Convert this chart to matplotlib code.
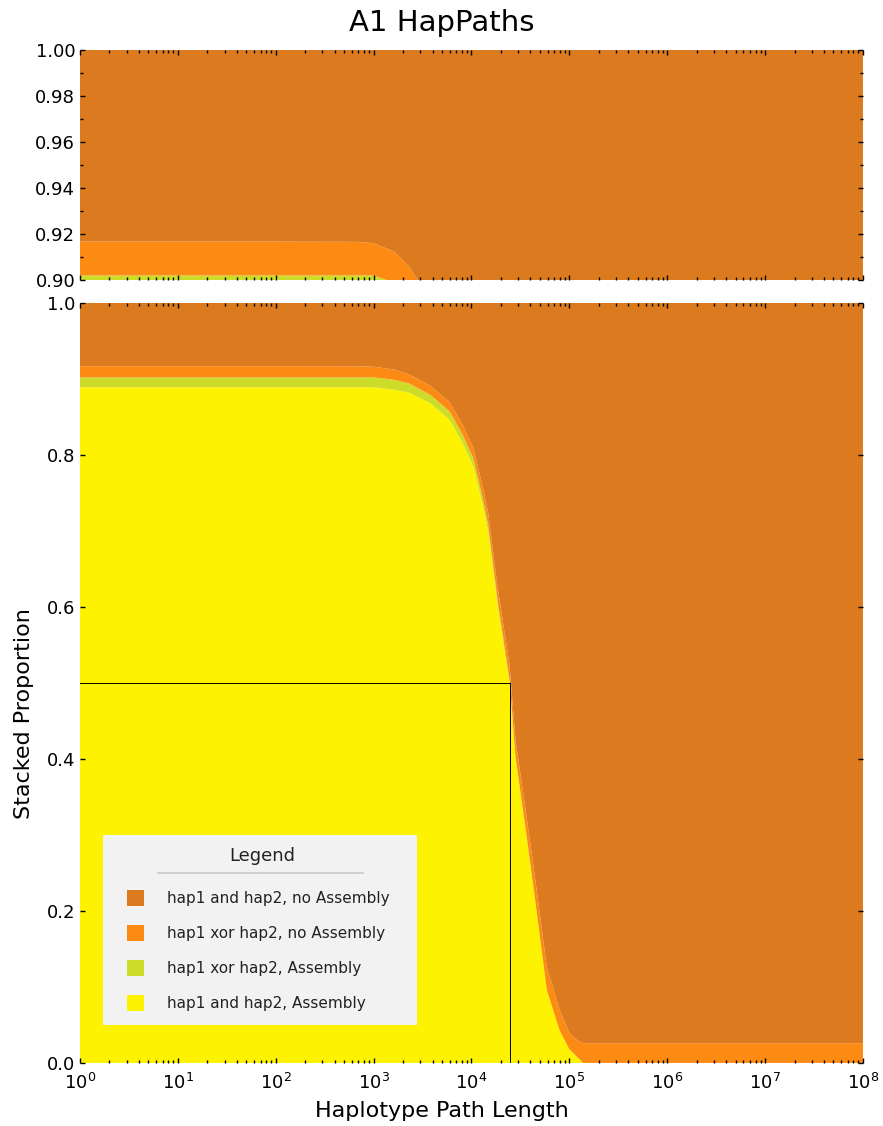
import numpy as np
import matplotlib
matplotlib.use("Agg")
import matplotlib.pyplot as plt
from matplotlib.patches import Rectangle
from matplotlib.lines import Line2D
from matplotlib.ticker import MultipleLocator, FormatStrFormatter, LogLocator

# haplotype path lengths (bp) at which the proportions were sampled
path_lengths = [1, 10, 100, 700, 1000, 1600, 2300, 3800, 6000, 8100, 10500, 13200,
                14800, 18600, 24500, 28200, 36300, 44700, 58900, 79400,
                100000, 120000, 138000, 158000, 1e6, 1e7, 1e8]

# proportion of each category, bottom to top of the stack
both_asm = [0.889, 0.889, 0.889, 0.889, 0.889, 0.886, 0.882, 0.868, 0.846, 0.816,
            0.784, 0.731, 0.700, 0.600, 0.500, 0.400, 0.300, 0.214, 0.096, 0.043,
            0.018, 0.008, 0.0, 0.0, 0.0, 0.0, 0.0]
xor_asm = [0.013, 0.013, 0.013, 0.013, 0.013, 0.013, 0.012, 0.011, 0.011, 0.011,
           0.011, 0.009, 0.008, 0.006, 0.004, 0.003, 0.002, 0.001, 0.0, 0.0,
           0.0, 0.0, 0.0, 0.0, 0.0, 0.0, 0.0]
xor_no_asm = [0.0147, 0.0147, 0.0147, 0.0146, 0.014, 0.0135, 0.012, 0.012, 0.012,
              0.013, 0.014, 0.015, 0.016, 0.018, 0.020, 0.022, 0.025, 0.028, 0.030,
              0.027, 0.022, 0.022, 0.026, 0.026, 0.026, 0.026, 0.026]
both_no_asm = [0.0833, 0.0833, 0.0833, 0.0834, 0.084, 0.0875, 0.094, 0.109, 0.131,
               0.160, 0.191, 0.245, 0.276, 0.376, 0.476, 0.575, 0.673, 0.757, 0.874,
               0.930, 0.960, 0.970, 0.974, 0.974, 0.974, 0.974, 0.974]

labels = ["hap1 and hap2, Assembly", "hap1 xor hap2, Assembly",
          "hap1 xor hap2, no Assembly", "hap1 and hap2, no Assembly"]
colors = ["#FDF200", "#CDDC29", "#FD8A13", "#DC7A1F"]

# length at which half the pairs are still assembled
n50_length = 24500
n50_level = 0.5

fig = plt.figure(figsize=(8.83, 11.26), dpi=100)
ax_top = fig.add_axes([0.0906, 0.7513, 0.8867, 0.2043])
ax = fig.add_axes([0.0906, 0.0560, 0.8867, 0.6750])

series = [both_asm, xor_asm, xor_no_asm, both_no_asm]
for a in (ax_top, ax):
    a.stackplot(path_lengths, *series, colors=colors, labels=labels, lw=0)
    a.set_xscale("log")
    a.set_xlim(1, 1e8)
    for s in a.spines.values():
        s.set_visible(False)
    a.xaxis.set_major_locator(LogLocator(base=10, numticks=20))
    a.xaxis.set_minor_locator(LogLocator(base=10, subs=np.arange(2, 10), numticks=20))
    a.tick_params(which="both", direction="in", top=True, right=True, width=1,
                  labelsize=13)
    a.tick_params(which="major", length=3.6)
    a.tick_params(which="minor", length=2.2)
    a.tick_params(axis="x", pad=7)

ax_top.set_ylim(0.9, 1.0)
ax_top.yaxis.set_major_locator(MultipleLocator(0.02))
ax_top.yaxis.set_minor_locator(MultipleLocator(0.01))
ax_top.yaxis.set_major_formatter(FormatStrFormatter("%.2f"))
ax_top.tick_params(labelbottom=False)

ax.set_ylim(0, 1.0)
ax.yaxis.set_major_locator(MultipleLocator(0.2))
ax.yaxis.set_major_formatter(FormatStrFormatter("%.1f"))

# N50 marker
ax.plot([1, n50_length], [n50_level, n50_level], color="k", lw=0.7)
ax.plot([n50_length, n50_length], [0, n50_level], color="k", lw=0.7)

# legend on a light panel with a title and divider
ax.add_patch(Rectangle((0.0294, 0.05), 0.401, 0.25, transform=ax.transAxes,
                       facecolor="#F2F2F2", edgecolor="none", zorder=5))
ax.text(0.2324, 0.2724, "Legend", transform=ax.transAxes, ha="center",
        va="center", fontsize=13, color="#222222", zorder=7)
ax.add_line(Line2D([0.0996, 0.3614], [0.2495, 0.2495], transform=ax.transAxes,
                   color="#C8C8C8", lw=1.2, zorder=7))
handles, labs = ax.get_legend_handles_labels()
leg = ax.legend(handles[::-1], labs[::-1], loc="upper left",
                bbox_to_anchor=(0.060, 0.228), frameon=False,
                fontsize=11, handlelength=1.1, handleheight=1.3,
                handletextpad=1.5, labelspacing=1.2, borderpad=0,
                borderaxespad=0)
leg.set_zorder(6)
for t in leg.get_texts():
    t.set_color("#222222")

fig.text(0.5, 0.980, "A1 HapPaths", ha="center", va="center", fontsize=21)
fig.text(0.5, 0.0135, "Haplotype Path Length", ha="center", va="center", fontsize=16)
fig.text(0.027, 0.366, "Stacked Proportion", ha="center", va="center",
         rotation=90, fontsize=16)

fig.savefig("out.png", dpi=100)
